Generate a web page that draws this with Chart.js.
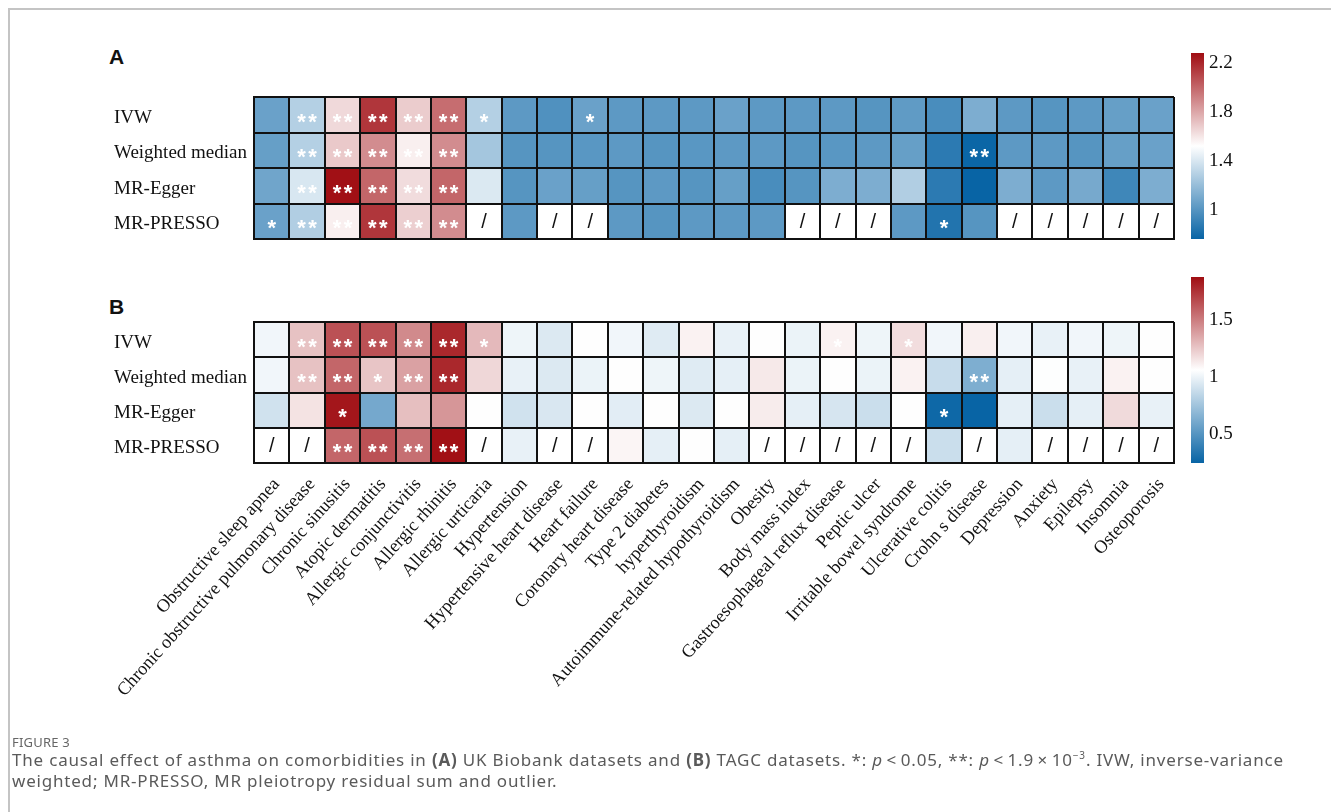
<!DOCTYPE html>
<html>
<head>
<meta charset="utf-8">
<script src="https://cdn.jsdelivr.net/npm/chart.js@4.4.1/dist/chart.umd.min.js"></script>
<style>
  html, body { margin: 0; padding: 0; background: #fff; }
  body { width: 1331px; height: 812px; position: relative; overflow: hidden; }
  .frame { position: absolute; left: 8px; top: 8px; right: -4px; bottom: -4px;
           border-left: 2px solid #c4c4c4; border-top: 2px solid #c4c4c4; }
  canvas.layer { position: absolute; left: 0; top: 0; }
  .panel { position: absolute; font: bold 21px "Liberation Sans", Arial, sans-serif; color: #111; }
  .figno { position: absolute; left: 12px; top: 733px; font: 13px "Noto Sans", sans-serif;
           color: #666; letter-spacing: 0.2px; }
  .caption { position: absolute; left: 12px; top: 745px; white-space: nowrap;
             font: 17px/21px "Noto Sans", sans-serif; color: #5a5a5a; letter-spacing: 0.8px; }
</style>
</head>
<body>
<div class="frame"></div>
<div class="panel" style="left:109px; top:45px;">A</div>
<div class="panel" style="left:109px; top:295px;">B</div>
<canvas class="layer" id="heatA" width="1331" height="812"></canvas>
<canvas class="layer" id="barA" width="1331" height="812"></canvas>
<canvas class="layer" id="heatB" width="1331" height="812"></canvas>
<canvas class="layer" id="barB" width="1331" height="812"></canvas>
<div class="figno">FIGURE 3</div>
<div class="caption">The causal effect of asthma on comorbidities in <b>(A)</b> UK Biobank datasets and <b>(B)</b> TAGC datasets. *: <i>p</i>&thinsp;&lt;&thinsp;0.05, **: <i>p</i>&thinsp;&lt;&thinsp;1.9&thinsp;×&thinsp;10<sup style="font-size:10px">−3</sup>. IVW, inverse-variance<br>weighted; MR-PRESSO, MR pleiotropy residual sum and outlier.</div>

<script>
// Outcomes (columns) and MR methods (rows, top to bottom)
const diseases = [
  "Obstructive sleep apnea", "Chronic obstructive pulmonary disease", "Chronic sinusitis",
  "Atopic dermatitis", "Allergic conjunctivitis", "Allergic rhinitis", "Allergic urticaria",
  "Hypertension", "Hypertensive heart disease", "Heart failure", "Coronary heart disease",
  "Type 2 diabetes", "hyperthyroidism", "Autoimmune-related hypothyroidism", "Obesity",
  "Body mass index", "Gastroesophageal reflux disease", "Peptic ulcer",
  "Irritable bowel syndrome", "Ulcerative colitis", "Crohn s disease", "Depression",
  "Anxiety", "Epilepsy", "Insomnia", "Osteoporosis"
];
const methods = ["IVW", "Weighted median", "MR-Egger", "MR-PRESSO"];

// (A) UK Biobank: odds ratios per method (null = not available)
const ukbIVW    = [1.06,1.29,1.64,2.15,1.68,1.98,1.29,1.02,0.98,1.06,1.02,1.02,1.02,1.06,1.02,1.02,1.02,1.00,1.03,0.96,1.12,1.02,1.00,1.02,1.05,1.06];
const ukbWM     = [1.05,1.29,1.69,1.88,1.57,1.88,1.24,1.00,1.00,1.01,1.02,1.00,1.01,1.02,1.02,1.00,1.01,1.02,1.05,0.87,0.77,1.02,1.02,1.00,1.05,1.06];
const ukbEgger  = [1.08,1.40,2.27,2.00,1.63,2.00,1.41,1.00,1.06,1.05,1.00,1.02,1.00,1.05,0.96,1.00,1.12,1.12,1.28,0.87,0.76,1.12,1.02,1.10,0.93,1.12];
const ukbPRESSO = [1.06,1.28,1.57,2.15,1.67,1.88,null,1.02,null,null,1.02,1.00,1.02,1.02,1.02,null,null,null,1.02,0.84,1.00,null,null,null,null,null];
const ukbSigIVW    = ["","**","**","**","**","**","*","","","*","","","","","","","","","","","","","","","",""];
const ukbSigWM     = ["","**","**","**","**","**","","","","","","","","","","","","","","","**","","","","",""];
const ukbSigEgger  = ["","**","**","**","**","**","","","","","","","","","","","","","","","","","","","",""];
const ukbSigPRESSO = ["*","**","**","**","**","**","","","","","","","","","","","","","","*","","","","","",""];
const ukbRange = [0.76, 2.28];
const ukbTicks = [1, 1.4, 1.8, 2.2];

// (B) TAGC: odds ratios per method (null = not available)
const tagcIVW    = [1.02,1.27,1.65,1.65,1.46,1.79,1.30,1.01,0.95,1.07,1.02,0.96,1.11,0.99,1.07,1.00,1.11,1.01,1.18,1.02,1.12,1.02,0.99,1.02,1.01,1.07];
const tagcWM     = [1.02,1.27,1.58,1.26,1.38,1.79,1.20,0.99,0.95,1.00,1.07,1.01,0.96,0.98,1.14,1.00,1.07,1.00,1.11,0.88,0.64,0.98,1.06,0.99,1.11,1.07];
const tagcEgger  = [0.91,1.16,1.85,0.61,1.28,1.42,1.07,0.91,0.94,1.07,0.97,1.07,0.95,1.07,1.13,0.98,0.93,0.89,1.07,0.27,0.25,0.98,0.89,0.98,1.19,0.99];
const tagcPRESSO = [null,null,1.58,1.65,1.55,1.87,null,0.99,null,null,1.10,0.98,1.07,0.98,null,null,null,null,null,0.89,null,0.98,null,null,null,null];
const tagcSigIVW    = ["","**","**","**","**","**","*","","","","","","","","","","*","","*","","","","","","",""];
const tagcSigWM     = ["","**","**","*","**","**","","","","","","","","","","","","","","","**","","","","",""];
const tagcSigEgger  = ["","","*","","","","","","","","","","","","","","","","","*","","","","","",""];
const tagcSigPRESSO = ["","","**","**","**","**","","","","","","","","","","","","","","","","","","","",""];
const tagcRange = [0.25, 1.88];
const tagcTicks = [0.5, 1, 1.5];

// Diverging palette: blue -> white -> red
const LOW = [8, 100, 165], MID = [255, 255, 255], HIGH = [160, 13, 18];
function mix(a, b, t) { return a.map((v, k) => Math.round(v + (b[k] - v) * t)); }
function colorFor(v, range) {
  if (v === null || v === undefined) return "#ffffff";
  const mid = (range[0] + range[1]) / 2;
  let c;
  if (v < mid) c = mix(MID, LOW, Math.min(1, (mid - v) / (mid - range[0])));
  else c = mix(MID, HIGH, Math.min(1, (v - mid) / (range[1] - mid)));
  return `rgb(${c[0]},${c[1]},${c[2]})`;
}

const SERIF = '"Liberation Serif", "Times New Roman", serif';
const GRID = "#111";
const LABEL_LEFT = 114;

// Writes significance marks and "/" for missing estimates in each cell
const cellText = {
  id: "cellText",
  afterDatasetsDraw(chart) {
    const ctx = chart.ctx;
    chart.data.datasets.forEach((ds, d) => {
      const meta = chart.getDatasetMeta(d);
      meta.data.forEach((el, i) => {
        const cx = el.x, cy = (el.y + el.base) / 2;
        ctx.save();
        ctx.textAlign = "center";
        ctx.textBaseline = "alphabetic";
        if (ds.or[i] === null) {
          ctx.fillStyle = "#111";
          ctx.font = '20px "Liberation Sans", Arial, sans-serif';
          ctx.fillText("/", cx, cy + 7.5);
        } else if (ds.sig[i]) {
          ctx.fillStyle = "#ffffff";
          ctx.font = 'bold 22px "Liberation Sans", Arial, sans-serif';
          const n = ds.sig[i].length;
          for (let k = 0; k < n; k++) {
            const off = n === 1 ? 0 : (k === 0 ? -5.5 : 5.5);
            ctx.fillText("*", cx + off, cy + 14);
          }
        }
        ctx.restore();
      });
    });
  }
};

function heatmap(id, rows, sigs, range, area, showX) {
  // rows listed top to bottom; stacked bottom-up, so reverse
  const order = [3, 2, 1, 0];
  const datasets = order.map(r => ({
    label: methods[r],
    data: diseases.map(() => 1),
    or: rows[r],
    sig: sigs[r],
    backgroundColor: rows[r].map(v => colorFor(v, range)),
    borderWidth: 0,
    barPercentage: 1,
    categoryPercentage: 1
  }));
  const xHeight = showX ? 240 : 0;
  return new Chart(document.getElementById(id), {
    type: "bar",
    data: { labels: diseases, datasets },
    plugins: [cellText],
    options: {
      responsive: false,
      animation: false,
      events: [],
      layout: { padding: { left: LABEL_LEFT, top: area.top, right: 1331 - area.right, bottom: 812 - area.bottom - xHeight } },
      plugins: { legend: { display: false }, tooltip: { enabled: false } },
      scales: {
        x: {
          stacked: true,
          offset: true,
          grid: { offset: true, color: GRID, lineWidth: 2, drawTicks: false, z: 1 },
          border: { display: true, color: GRID, width: 2, z: 1 },
          ticks: {
            display: showX, autoSkip: false, maxRotation: 48, minRotation: 48,
            padding: 11, labelOffset: 5,
            color: "#111", font: { family: SERIF, size: 18.3 }
          },
          afterFit: s => { s.height = xHeight; }
        },
        y: {
          stacked: true,
          min: 0, max: 4,
          grid: {
            color: c => (Math.abs(c.tick.value % 1) < 1e-6 ? GRID : "rgba(0,0,0,0)"),
            lineWidth: 2, drawTicks: false, z: 1
          },
          border: { display: true, color: GRID, width: 2, z: 1 },
          ticks: {
            stepSize: 0.5, autoSkip: false, padding: 7, crossAlign: "far", labelOffset: 3,
            color: "#111", font: { family: SERIF, size: 19 },
            callback: v => (Math.abs(v % 1 - 0.5) < 1e-6 ? methods[3 - Math.floor(v)] : "")
          },
          afterFit: s => { s.width = area.left - LABEL_LEFT; }
        }
      }
    }
  });
}

// Fills the colour bar's plot area with the palette along its value axis
const gradientFill = {
  id: "gradientFill",
  beforeDatasetsDraw(chart, args, opts) {
    const { ctx, chartArea: a } = chart;
    const ys = chart.scales.y;
    const g = ctx.createLinearGradient(0, ys.getPixelForValue(opts.range[0]), 0, ys.getPixelForValue(opts.range[1]));
    g.addColorStop(0, colorFor(opts.range[0], opts.range));
    g.addColorStop(0.5, "#ffffff");
    g.addColorStop(1, colorFor(opts.range[1], opts.range));
    ctx.save();
    ctx.fillStyle = g;
    ctx.fillRect(a.left, a.top, a.right - a.left, a.bottom - a.top);
    ctx.restore();
  }
};

function colorBar(id, range, ticks, area) {
  return new Chart(document.getElementById(id), {
    type: "scatter",
    data: { datasets: [{ data: [] }] },
    plugins: [gradientFill],
    options: {
      responsive: false,
      animation: false,
      events: [],
      layout: { padding: { left: area.left, top: area.top, right: 1331 - area.right - 45, bottom: 812 - area.bottom } },
      plugins: { legend: { display: false }, tooltip: { enabled: false }, gradientFill: { range } },
      scales: {
        x: { display: false, min: 0, max: 1 },
        y: {
          position: "right",
          min: range[0], max: range[1],
          grid: { display: false, drawTicks: false },
          border: { display: false },
          ticks: { padding: 5, color: "#111", font: { family: SERIF, size: 19 }, callback: v => String(v) },
          afterBuildTicks: s => { s.ticks = ticks.map(v => ({ value: v })); },
          afterFit: s => { s.width = 45; }
        }
      }
    }
  });
}

heatmap("heatA", [ukbIVW, ukbWM, ukbEgger, ukbPRESSO],
        [ukbSigIVW, ukbSigWM, ukbSigEgger, ukbSigPRESSO], ukbRange,
        { left: 254, top: 97, right: 1174, bottom: 239 }, false);
colorBar("barA", ukbRange, ukbTicks, { left: 1191, top: 53, right: 1204, bottom: 239 });

heatmap("heatB", [tagcIVW, tagcWM, tagcEgger, tagcPRESSO],
        [tagcSigIVW, tagcSigWM, tagcSigEgger, tagcSigPRESSO], tagcRange,
        { left: 254, top: 322, right: 1174, bottom: 463 }, true);
colorBar("barB", tagcRange, tagcTicks, { left: 1191, top: 277, right: 1204, bottom: 463 });
</script>
</body>
</html>
